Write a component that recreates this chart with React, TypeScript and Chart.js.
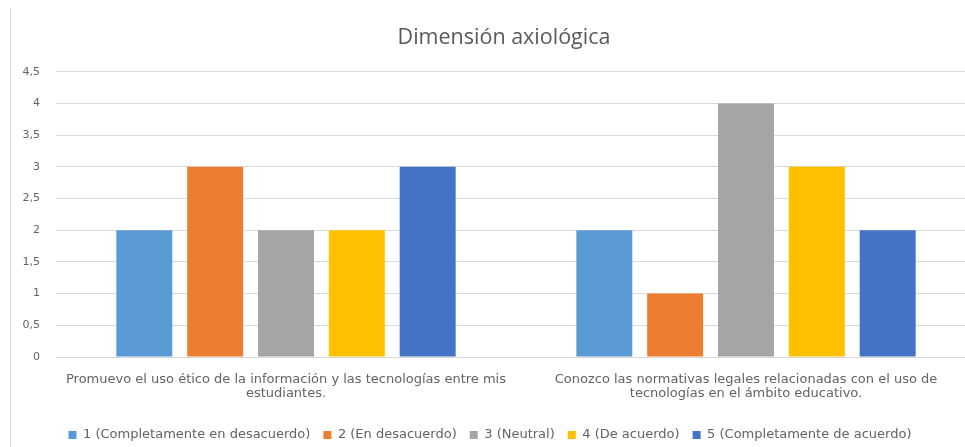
import React, { useEffect, useRef } from "react";
import { Chart, registerables } from "chart.js";

Chart.register(...registerables);

const chartTitle = "Dimensión axiológica";

const categories: string[][] = [
  ["Promuevo el uso ético de la información y las tecnologías entre mis", "estudiantes."],
  ["Conozco las normativas legales relacionadas con el uso de", "tecnologías en el ámbito educativo."],
];

const seriesNames = [
  "1 (Completamente en desacuerdo)",
  "2 (En desacuerdo)",
  "3 (Neutral)",
  "4 (De acuerdo)",
  "5 (Completamente de acuerdo)",
];

const seriesColors = ["#5B9BD5", "#ED7D31", "#A5A5A5", "#FFC000", "#4472C4"];

const completelyDisagree = [2, 2];
const disagree = [3, 1];
const neutral = [2, 4];
const agree = [2, 3];
const completelyAgree = [3, 2];

const yTicks = [0, 0.5, 1, 1.5, 2, 2.5, 3, 3.5, 4, 4.5];

const TEXT = "#595959";
const SMALL_TEXT = "#636363";
const GRID = "#D9D9D9";
const TITLE_FONT = "'Open Sans', 'Liberation Sans', sans-serif";
const SMALL_FONT = "'DejaVu Sans', 'Open Sans', sans-serif";

const CANVAS_W = 998;
const CANVAS_H = 447;
const PLOT_BOTTOM = 357;
const LEGEND_PAD = 13;
const LEGEND_FONT = 13;
const LEGEND_Y = 435;

// thin frame line along the left edge of the chart box
const frameLine = {
  id: "frameLine",
  beforeDraw(chart: Chart) {
    const ctx = chart.ctx;
    ctx.save();
    ctx.strokeStyle = GRID;
    ctx.lineWidth = 1;
    ctx.beginPath();
    ctx.moveTo(10.5, 8);
    ctx.lineTo(10.5, chart.height);
    ctx.stroke();
    ctx.restore();
  },
};

// nudge the title and legend blocks to their spots within the chart box
const blockPlacement = {
  id: "blockPlacement",
  afterLayout(chart: any) {
    const title = chart.titleBlock;
    if (title) {
      title.left += 11;
      title.right += 11;
    }
    const legend = chart.legend;
    if (legend) {
      const dy = LEGEND_Y - (legend.top + LEGEND_PAD + LEGEND_FONT / 2);
      legend.top += dy;
      legend.bottom += dy;
      legend.left -= 3;
      legend.right -= 3;
    }
  },
};

export default function App() {
  const canvasRef = useRef<HTMLCanvasElement | null>(null);

  useEffect(() => {
    if (!canvasRef.current) return;
    const values = [completelyDisagree, disagree, neutral, agree, completelyAgree];
    const chart = new Chart(canvasRef.current, {
      type: "bar",
      data: {
        labels: categories,
        datasets: values.map((data, i) => ({
          label: seriesNames[i],
          data,
          backgroundColor: seriesColors[i],
          borderWidth: 0,
          categoryPercentage: 0.77,
          barPercentage: 0.79,
        })),
      },
      options: {
        responsive: false,
        animation: false,
        devicePixelRatio: 1,
        layout: { padding: { left: 10, right: 22, top: 10, bottom: 0 } },
        plugins: {
          title: {
            display: true,
            text: chartTitle,
            color: TEXT,
            font: { family: TITLE_FONT, size: 21.5, weight: "normal", lineHeight: 1.2 },
            padding: { top: 15, bottom: 21 },
          },
          legend: {
            position: "bottom",
            labels: {
              color: SMALL_TEXT,
              font: { family: SMALL_FONT, size: LEGEND_FONT },
              boxWidth: 8,
              boxHeight: 8,
              padding: LEGEND_PAD,
            },
          },
          tooltip: { enabled: false },
        },
        scales: {
          x: {
            afterFit(scale: any) {
              const legendH = scale.chart.legend ? scale.chart.legend.height : 0;
              scale.height = CANVAS_H - legendH - PLOT_BOTTOM;
            },
            grid: { display: false, drawTicks: false },
            border: { display: false },
            ticks: {
              color: SMALL_TEXT,
              font: { family: SMALL_FONT, size: 13, lineHeight: 1.08 },
              padding: 16,
              maxRotation: 0,
              autoSkip: false,
            },
          },
          y: {
            min: 0,
            max: 4.5,
            afterBuildTicks(scale: any) {
              scale.ticks = yTicks.map((v) => ({ value: v }));
            },
            afterFit(scale: any) {
              scale.width = 46;
            },
            grid: { color: GRID, drawTicks: false },
            border: { display: false },
            ticks: {
              color: SMALL_TEXT,
              font: { family: SMALL_FONT, size: 11 },
              padding: 16,
              callback: (v: any) => String(v).replace(".", ","),
            },
          },
        },
      },
      plugins: [frameLine, blockPlacement],
    });
    return () => chart.destroy();
  }, []);

  return (
    <div style={{ position: "fixed", left: 0, top: 0, width: CANVAS_W, height: CANVAS_H, background: "#fff" }}>
      <canvas ref={canvasRef} width={CANVAS_W} height={CANVAS_H} style={{ display: "block" }} />
    </div>
  );
}
